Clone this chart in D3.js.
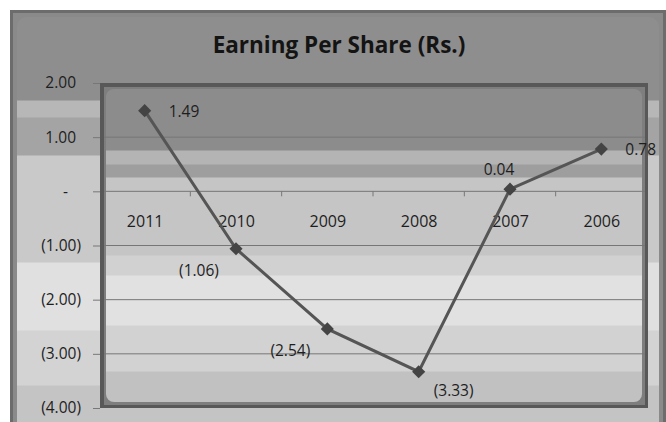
<!DOCTYPE html>
<html>
<head>
<meta charset="utf-8">
<script src="https://cdn.jsdelivr.net/npm/d3@7"></script>
<style>
  body { margin: 0; background: #fff; }
  svg { display: block; }
</style>
</head>
<body>
<figure id="chart" style="margin:0"></figure>
<script>
// data
const years = ["2011", "2010", "2009", "2008", "2007", "2006"];
const eps = [1.49, -1.06, -2.54, -3.33, 0.04, 0.78];
const yTicks = [2, 1, 0, -1, -2, -3, -4];
// where Excel put each data label
const labelSpots = ["right", "belowLeft", "belowLeft", "belowRight", "above", "right"];

const width = 666, height = 422;
const plot = { left: 100, right: 648, top: 83, bottom: 408 };

const svg = d3.select("#chart").append("svg")
  .attr("width", width)
  .attr("height", height);

const defs = svg.append("defs");

// stepped grey gradient, like the office "bevel" look
function bands(id, stops) {
  const g = defs.append("linearGradient")
    .attr("id", id)
    .attr("gradientUnits", "userSpaceOnUse")
    .attr("x1", 0).attr("x2", 0).attr("y1", 0).attr("y2", height);
  stops.forEach(s => {
    g.append("stop").attr("offset", s[0] / height).attr("stop-color", s[1]);
    g.append("stop").attr("offset", s[2] / height).attr("stop-color", s[1]);
  });
}
bands("outerBg", [
  [0, "#8e8e8e", 100], [101, "#b7b7b7", 117], [118, "#a4a4a4", 155],
  [156, "#c9c9c9", 262], [263, "#e0e0e0", 330], [331, "#d3d3d3", 385], [386, "#c4c4c4", 422]
]);
bands("plotBg", [
  [0, "#8c8c8c", 150], [151, "#b4b4b4", 164], [165, "#9e9e9e", 177],
  [178, "#c5c5c5", 255], [256, "#d1d1d1", 275], [276, "#e1e1e1", 325],
  [326, "#d2d2d2", 371], [372, "#c1c1c1", 422]
]);

// outer chart frame
svg.append("rect")
  .attr("x", 10).attr("y", 10).attr("width", 656).attr("height", 420)
  .attr("fill", "#6c6c6c");
svg.append("rect")
  .attr("x", 13).attr("y", 13).attr("width", 650).attr("height", 420)
  .attr("fill", "#8a8a8a");
svg.append("rect")
  .attr("x", 17).attr("y", 17).attr("width", 642).attr("height", 420)
  .attr("rx", 10)
  .attr("fill", "url(#outerBg)");

// plot area
svg.append("rect")
  .attr("x", plot.left).attr("y", plot.top)
  .attr("width", plot.right - plot.left).attr("height", plot.bottom - plot.top)
  .attr("fill", "#585858");
svg.append("rect")
  .attr("x", plot.left + 4).attr("y", plot.top + 4)
  .attr("width", plot.right - plot.left - 7).attr("height", plot.bottom - plot.top - 7)
  .attr("fill", "#7e7e7e");
svg.append("rect")
  .attr("x", plot.left + 6).attr("y", plot.top + 6)
  .attr("width", plot.right - plot.left - 12).attr("height", plot.bottom - plot.top - 12)
  .attr("rx", 8)
  .attr("fill", "url(#plotBg)");

// scales
const x = d3.scalePoint()
  .domain(years)
  .range([plot.left - 1, plot.right - 1])
  .padding(0.5);

const y = d3.scaleLinear()
  .domain([-4, 2])
  .range([plot.bottom, plot.top]);

// gridlines
svg.append("g")
  .selectAll("line")
  .data(yTicks.filter(d => d !== 2 && d !== -4))
  .join("line")
  .attr("x1", plot.left + 4).attr("x2", plot.right - 3)
  .attr("y1", d => y(d)).attr("y2", d => y(d))
  .attr("stroke", "#767676")
  .attr("stroke-width", 1);

// y axis, accounting style labels
const fmt = d => d === 0 ? "-" : d < 0 ? `(${d3.format(".2f")(-d)})` : d3.format(".2f")(d);
const yAxis = svg.append("g")
  .attr("transform", `translate(${plot.left},0)`)
  .call(d3.axisLeft(y).tickValues(yTicks).tickFormat(fmt).tickSize(7).tickPadding(12));
yAxis.select(".domain").remove();
yAxis.selectAll(".tick line").attr("stroke", "#777");
yAxis.selectAll(".tick text")
  .attr("fill", "#1e1e1e")
  .style("font-family", "'Open Sans', sans-serif")
  .style("font-size", "15.5px")
  .attr("dx", d => d > 0 ? -5 : d === 0 ? -13 : 0);

// x axis sitting on zero
const xAxis = svg.append("g")
  .attr("transform", `translate(0,${y(0)})`)
  .call(d3.axisBottom(x).tickSize(0).tickPadding(24));
xAxis.select(".domain").remove();
xAxis.selectAll(".tick text")
  .attr("fill", "#1e1e1e")
  .style("font-family", "'Open Sans', sans-serif")
  .style("font-size", "16px");
// small tick marks between categories
svg.append("g")
  .selectAll("line")
  .data(years.slice(1))
  .join("line")
  .attr("x1", d => x(d) - x.step() / 2).attr("x2", d => x(d) - x.step() / 2)
  .attr("y1", y(0)).attr("y2", y(0) + 5)
  .attr("stroke", "#777");

// the line
const points = years.map((yr, i) => ({ year: yr, value: eps[i], spot: labelSpots[i] }));
svg.append("path")
  .datum(points)
  .attr("fill", "none")
  .attr("stroke", "#555")
  .attr("stroke-width", 3)
  .attr("d", d3.line().x(d => x(d.year)).y(d => y(d.value)));

svg.append("g")
  .selectAll("path")
  .data(points)
  .join("path")
  .attr("d", d3.symbol(d3.symbolDiamond2, 110))
  .attr("transform", d => `translate(${x(d.year)},${y(d.value)})`)
  .attr("fill", "#444");

// data labels
const offsets = {
  right: [24, 6, "start"],
  belowLeft: [-37, 27, "middle"],
  belowRight: [35, 24, "middle"],
  above: [-11, -14, "middle"]
};
svg.append("g")
  .selectAll("text")
  .data(points)
  .join("text")
  .attr("x", d => x(d.year) + offsets[d.spot][0])
  .attr("y", d => y(d.value) + offsets[d.spot][1])
  .attr("text-anchor", d => offsets[d.spot][2])
  .attr("fill", "#1e1e1e")
  .style("font-family", "'Open Sans', sans-serif")
  .style("font-size", "15.5px")
  .text(d => d.value < 0 ? `(${d3.format(".2f")(-d.value)})` : d3.format(".2f")(d.value));

// title
svg.append("text")
  .attr("x", 339)
  .attr("y", 53)
  .attr("text-anchor", "middle")
  .attr("fill", "#141414")
  .style("font-family", "'Open Sans', sans-serif")
  .style("font-weight", "bold")
  .style("font-size", "22.5px")
  .text("Earning Per Share (Rs.)");
</script>
</body>
</html>
